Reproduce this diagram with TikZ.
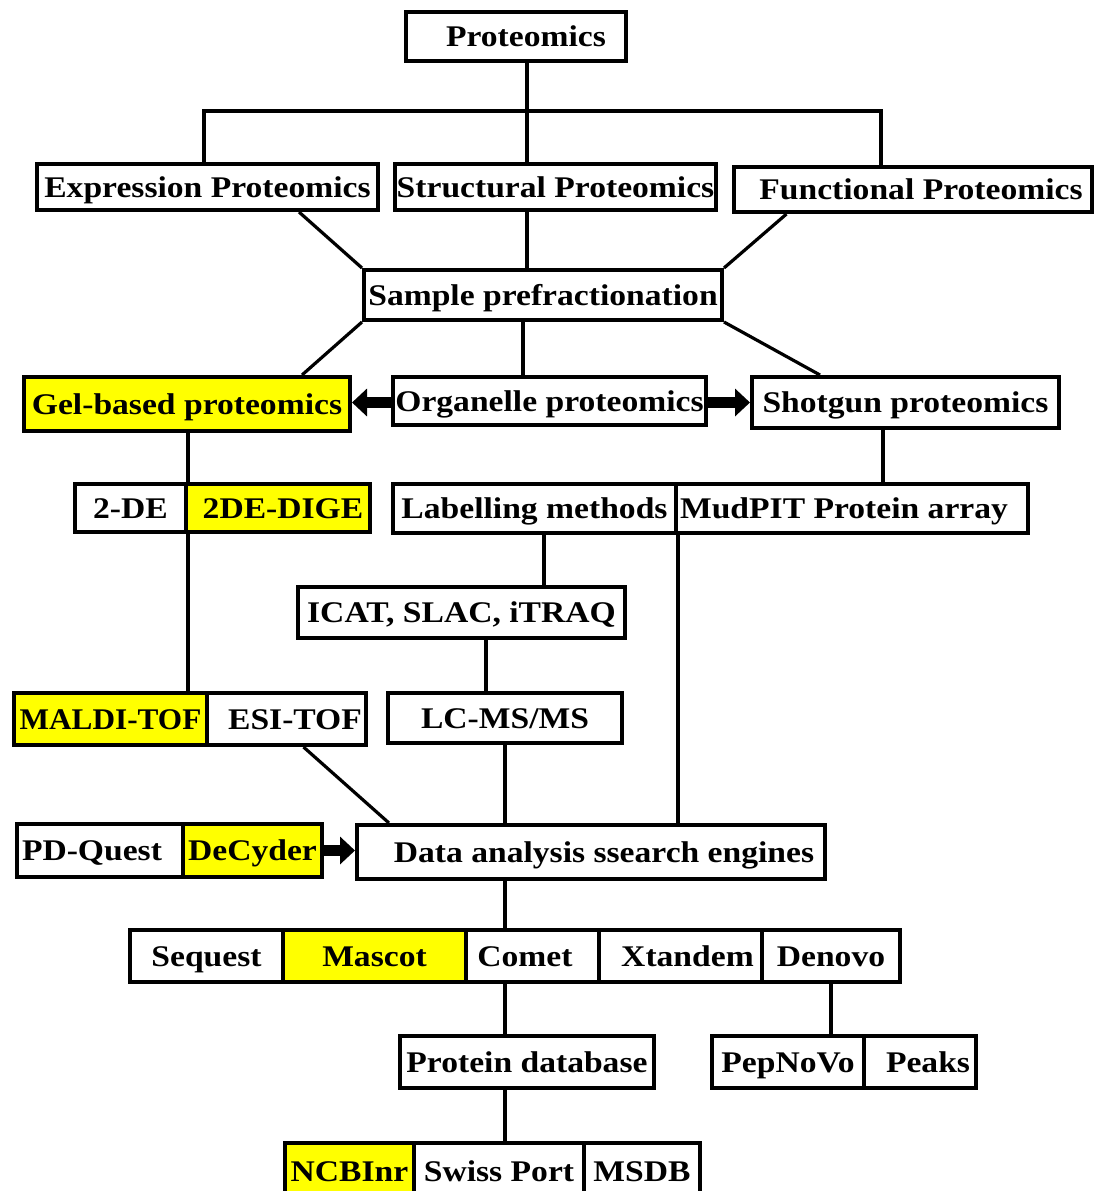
\documentclass[tikz,border=0pt]{standalone}
\usepackage{fontspec}
\setmainfont{Liberation Serif}[FakeStretch=1.12]
\usetikzlibrary{arrows.meta,backgrounds}
\definecolor{hilite}{RGB}{255,255,0}

% a rectangular cell given by its corner coordinates: [fill]{name}{x1}{y1}{x2}{y2}{text}
\newcommand\cell[7][white]{%
  \node[cellbox, fill=#1, minimum width={#5pt-#3pt}, minimum height={#6pt-#4pt}]
    (#2) at ({(#3+#5)/2},{(#4+#6)/2}) {#7};}
\newcommand\sh[1]{\hspace*{#1pt}}

\begin{document}
\begin{tikzpicture}[x=1pt,y=-1pt,
  cellbox/.style={draw=black, line width=4pt, inner sep=0pt,
    text height=20pt, text depth=0pt,
    font=\fontsize{30pt}{32pt}\selectfont\bfseries},
  link/.style={draw=black, line width=3.2pt},
  bigarrow/.style={draw=black, line width=11pt,
    -{Triangle[length=15pt,width=27pt]}}]

\useasboundingbox (0,0) rectangle (1094,1191);
\clip (0,0) rectangle (1094,1191);

% top levels
\cell{prot}{406}{12}{626}{61}{\sh{20}Proteomics}
\cell{expr}{37}{164}{378}{210}{Expression Proteomics}
\cell{struct}{395}{164}{716}{210}{Structural Proteomics}
\cell{func}{734}{167}{1092}{212}{\sh{16}Functional Proteomics}
\cell{sample}{364}{270}{722}{320}{Sample prefractionation}

% approaches
\cell[hilite]{gel}{24}{377}{350}{431}{Gel-based proteomics}
\cell{org}{393}{377}{706}{425}{Organelle proteomics}
\cell{shot}{752}{377}{1059}{428}{Shotgun proteomics}

% separation and labelling
\cell{de2}{75}{484}{186}{532}{2-DE}
\cell[hilite]{dige}{186}{484}{370}{532}{\sh{10}2DE-DIGE}
\cell{lab}{393}{484}{676}{533}{Labelling methods}
\cell{mud}{676}{484}{1028}{533}{MudPIT Protein array\sh{16}}
\cell{icat}{298}{587}{625}{638}{ICAT, SLAC, iTRAQ}

% mass spectrometry
\cell[hilite]{maldi}{14}{693}{207}{745}{\scalebox{0.93}[1]{MALDI-TOF}}
\cell{esi}{207}{693}{366}{745}{\sh{17}ESI-TOF}
\cell{lcms}{388}{693}{622}{743}{LC-MS/MS}

% data analysis
\cell{pdq}{17}{824}{183}{877}{PD-Quest\sh{16}}
\cell[hilite]{decy}{183}{824}{322}{877}{DeCyder}
\cell{data}{357}{825}{825}{879}{\sh{26}Data analysis ssearch engines}

% search engines
\cell{seq}{130}{930}{283}{982}{Sequest}
\cell[hilite]{masc}{283}{930}{466}{982}{Mascot}
\cell{comet}{466}{930}{599}{982}{Comet\sh{15}}
\cell{xtan}{599}{930}{762}{982}{\sh{14}Xtandem}
\cell{denovo}{762}{930}{900}{982}{Denovo}

% databases and de novo tools
\cell{protdb}{400}{1036}{654}{1088}{Protein database}
\cell{pep}{712}{1036}{864}{1088}{PepNoVo}
\cell{peaks}{864}{1036}{976}{1088}{\sh{16}Peaks}
\cell[hilite]{ncbi}{285}{1143}{414}{1200}{NCBInr}
\cell{swiss}{414}{1143}{584}{1200}{Swiss Port}
\cell{msdb}{584}{1143}{700}{1200}{MSDB}

\begin{scope}[on background layer]
  \fill[white] (0,0) rectangle (1094,1191);

  % branching under the root
  \coordinate (hub) at ([xshift=11pt]prot.south |- 0,111);
  \draw[link] ([xshift=11pt]prot.south) -- (hub);
  \draw[link] ([xshift=-3.5pt]expr.north) |- (hub) -| ([xshift=-32pt]func.north);
  \draw[link] (hub) -- (hub |- struct.north);

  % into sample prefractionation
  \draw[link] ([xshift=91.5pt]expr.south) -- (sample.north west);
  \draw[link] (hub |- struct.south) -- (hub |- sample.north);
  \draw[link] ([xshift=-126.5pt]func.south) -- (sample.north east);

  % out of sample prefractionation
  \draw[link] (sample.south west) -- ([xshift=115pt]gel.north);
  \coordinate (sdrop) at ([xshift=-20pt]sample.south);
  \draw[link] (sdrop) -- (sdrop |- org.north);
  \draw[link] (sample.south east) -- ([xshift=-85.5pt]shot.north);

  % gel-based branch
  \draw[link] (gel.south -| de2.east) -- (de2.east |- maldi.north);
  \draw[link] ([xshift=17pt]esi.south) -- ([xshift=34pt]data.north west);

  % shotgun branch
  \coordinate (shdrop) at ([xshift=-22.5pt]shot.south);
  \draw[link] (shdrop) -- (shdrop |- mud.north);
  \coordinate (labdrop) at ([xshift=9.5pt]lab.south);
  \draw[link] (labdrop) -- (labdrop |- icat.north);
  \draw[link] (lab.south east) -- (lab.south east |- data.north);
  \coordinate (icdrop) at ([xshift=24.5pt]icat.south);
  \draw[link] (icdrop) -- (icdrop |- lcms.north);
  \draw[link] (lcms.south) -- (lcms.south |- data.north);

  % down to the search engines and databases
  \draw[link] (lcms.south |- data.south) -- (lcms.south |- comet.north);
  \draw[link] (lcms.south |- comet.south) -- (lcms.south |- protdb.north);
  \draw[link] (lcms.south |- protdb.south) -- (lcms.south |- swiss.north);
  \draw[link] (denovo.south) -- (denovo.south |- pep.north);

  % block arrows
  \draw[bigarrow] ([yshift=-1.5pt]org.west) -- ([yshift=-1.5pt]org.west -| gel.east);
  \draw[bigarrow] ([yshift=-1.5pt]org.east) -- ([yshift=-1.5pt]org.east -| shot.west);
  \draw[bigarrow] (decy.east) -- (decy.east -| data.west);
\end{scope}
\end{tikzpicture}
\end{document}
